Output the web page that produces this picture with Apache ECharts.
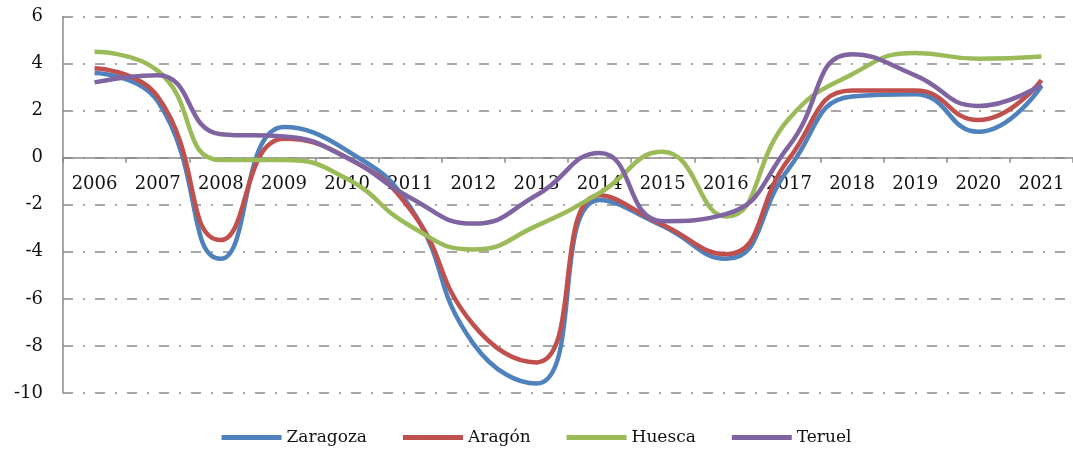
<!DOCTYPE html>
<html>
<head>
<meta charset="utf-8">
<script src="https://cdn.jsdelivr.net/npm/echarts@6/dist/echarts.min.js"></script>
<style>html,body{margin:0;padding:0;background:#fff;}#c{width:1073px;height:457px;}</style>
</head>
<body>
<div id="c"></div>
<script>
const years = ['2006','2007','2008','2009','2010','2011','2012','2013','2014','2015','2016','2017','2018','2019','2020','2021'];
const zaragoza = [3.6, 2.4, -4.3, 1.3, 0.3, -2.1, -7.9, -9.6, -1.8, -2.9, -4.3, -0.45, 2.6, 2.7, 1.1, 3.05];
const aragon   = [3.8, 2.6, -3.5, 0.8, 0.0, -2.2, -7.1, -8.7, -1.6, -2.85, -4.1, -0.05, 2.85, 2.85, 1.6, 3.3];
const huesca   = [4.5, 3.7, -0.1, -0.1, -0.9, -2.9, -3.9, -2.9, -1.5, 0.25, -2.5, 1.65, 3.55, 4.45, 4.2, 4.3];
const teruel   = [3.2, 3.5, 1.0, 0.9, 0.0, -1.7, -2.8, -1.6, 0.2, -2.7, -2.4, 0.5, 4.4, 3.5, 2.2, 3.1];
const yTicks = {min: -10, max: 6, step: 2};

const font = 'DejaVu Serif';
const gridColor = '#8a8a8a';
const H = 457, gTop = 16.5, gBottom = 64;
const plotH = H - gTop - gBottom;
const zeroOffset = -plotH * (0 - yTicks.min) / (yTicks.max - yTicks.min);

const mk = (name, data, color) => ({
  name, type: 'line', data, smooth: 0.5, symbol: 'none',
  lineStyle: {color, width: 4.5}, itemStyle: {color}
});

const chart = echarts.init(document.getElementById('c'), null, {renderer: 'canvas'});
chart.setOption({
  animation: false,
  backgroundColor: '#fff',
  grid: {left: 63, right: -3, top: gTop, bottom: gBottom, containLabel: false},
  legend: {
    bottom: 6, left: 'center', icon: 'rect', itemWidth: 60, itemHeight: 5, itemGap: 36,
    textStyle: {fontFamily: font, fontSize: 17, color: '#111'},
    data: ['Zaragoza','Aragón','Huesca','Teruel']
  },
  xAxis: {
    type: 'category', data: years, boundaryGap: true, position: 'bottom', offset: zeroOffset,
    axisLine: {onZero: false, lineStyle: {color: gridColor, width: 1.5}},
    axisTick: {show: true, length: 5, lineStyle: {color: gridColor, width: 1.5}},
    axisLabel: {fontFamily: font, fontSize: 18, color: '#111', margin: 18, interval: 0},
    splitLine: {show: false}
  },
  yAxis: {
    type: 'value', min: yTicks.min, max: yTicks.max, interval: yTicks.step,
    axisLine: {show: true, lineStyle: {color: gridColor, width: 1.5}},
    axisTick: {show: false},
    axisLabel: {fontFamily: font, fontSize: 18, color: '#111', margin: 20},
    splitLine: {show: true, lineStyle: {color: gridColor, width: 1.5, type: [10, 10, 2, 10]}}
  },
  series: [
    mk('Zaragoza', zaragoza, '#4F81BD'),
    mk('Aragón', aragon, '#C0504D'),
    mk('Huesca', huesca, '#9BBB59'),
    mk('Teruel', teruel, '#8064A2')
  ]
});
</script>
</body>
</html>
